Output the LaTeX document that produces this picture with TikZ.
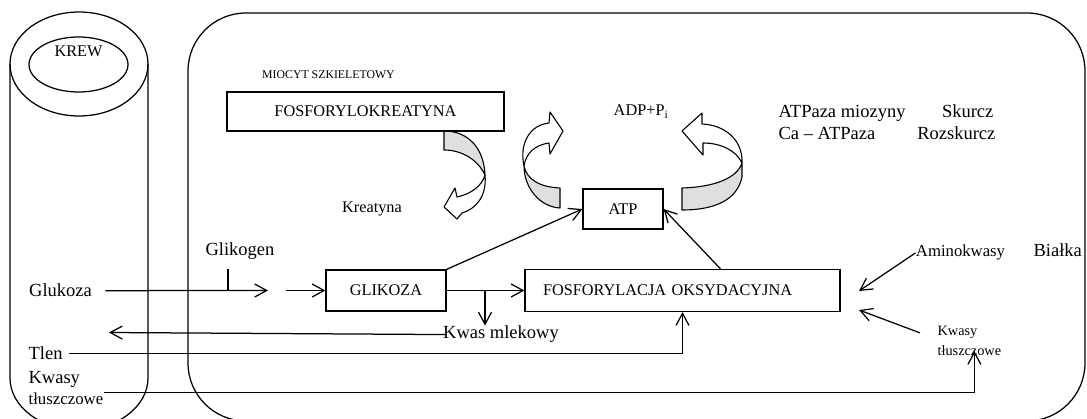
\documentclass[tikz,border=0pt]{standalone}
\usepackage{fontspec}
\setmainfont{Liberation Serif}
\usetikzlibrary{arrows.meta}
\usetikzlibrary{positioning}

\begin{document}
\begin{tikzpicture}[
          ->, >={Straight Barb[length=12pt,width=13pt]},
          x=1pt, y=1pt,
          line width=1.25pt,
          every node/.style={inner sep=0pt}
        ]

          % styles
          \tikzstyle{box}=[rectangle, draw, line width=1.25pt, font=\fontsize{16.3}{19}\selectfont]
          \tikzstyle{lbl}=[font=\fontsize{18.5}{22}\selectfont]
          \tikzstyle{midtxt}=[font=\fontsize{16.3}{19}\selectfont]
          \tikzstyle{sml}=[font=\fontsize{14.3}{17}\selectfont]
          \tikzstyle{band}=[-, draw, line width=1.1pt, fill=gray!25, line join=round]
          \tikzstyle{bandtop}=[-, draw, line width=1.1pt, fill=white, line join=round]

          \clip (0,0) rectangle (1087,-419);

          % blood vessel
          \draw[-] (10,-64) -- (10,-378) arc[start angle=180, end angle=360, x radius=69, y radius=52] -- (148,-64);
          \draw[-] (79,-64) ellipse [x radius=69, y radius=52];
          \draw[-] (78.5,-64.5) ellipse [x radius=49.5, y radius=27.5];
          \node[midtxt, anchor=base] (krew) at (78.5,-57) {KREW};

          % muscle cell
          \draw[-, rounded corners=58pt] (188,-13) rectangle (1085,-421);
          \node[font=\fontsize{11.8}{14}\selectfont, anchor=base] (miocyt) at (328.5,-79) {MIOCYT SZKIELETOWY};

          % curved arrows
          \draw[band] (444,-131) .. controls (468,-131) and (484,-148) .. (485,-175) .. controls (478,-160) and (462,-150) .. (444,-150) -- cycle;
          \draw[bandtop] (485,-175) .. controls (487,-196) and (476,-209) .. (462,-213) -- (457,-219) -- (444,-207) -- (455,-188) -- (457,-197) .. controls (471,-194) and (482,-186) .. (485,-175) -- cycle;
          \draw[band] (560,-188) .. controls (540,-187) and (527,-180) .. (524,-166) .. controls (524,-188) and (540,-207) .. (560,-208) -- cycle;
          \draw[bandtop] (524,-166) .. controls (519,-143) and (530,-125) .. (549,-123) -- (550,-112) -- (563,-131) -- (550,-154) -- (549,-143) .. controls (535,-145) and (526,-153) .. (524,-166) -- cycle;
          \draw[band] (682,-188) .. controls (715,-187) and (737,-178) .. (742,-163) -- (742,-177) .. controls (737,-200) and (715,-210) .. (682,-210) -- cycle;
          \draw[bandtop] (742,-163) .. controls (743,-140) and (725,-125) .. (702,-124) -- (702,-113) -- (682,-131) -- (703,-155) -- (703,-143) .. controls (720,-143) and (736,-150) .. (742,-163) -- cycle;

          % boxes
          \node[box, minimum width=277pt, minimum height=39pt] (fosfokr) at (365.5,-111.5) {FOSFORYLOKREATYNA};
          \node[box, minimum width=80pt, minimum height=40pt] (atp) at (623,-209) {ATP};
          \node[box, minimum width=120pt, minimum height=41pt] (glikoza) at (386,-290.5) {GLIKOZA};
          \node[box, text width=279pt, inner xsep=18pt, align=left, minimum height=42pt] (oksyd) at (682.5,-290.5) {FOSFORYLACJA OKSYDACYJNA};

          % labels
          \node[midtxt, anchor=base] (kreatyna) at (372,-213) {Kreatyna};
          \node[lbl, anchor=base] (glikogen) at (240,-256) {Glikogen};
          \node[midtxt, anchor=base] (adp) at (641,-116) {ADP+P\textsubscript{i}};
          \node[lbl, anchor=base west] (miozyna) at (778,-118) {ATPaza miozyny};
          \node[lbl, anchor=base east] (skurcz) at (994,-118) {Skurcz};
          \node[lbl, below=22pt of miozyna.base west, anchor=base west] (caatp) {Ca -- ATPaza};
          \node[lbl, anchor=base east] (rozkurcz) at (996,-140) {Rozskurcz};
          \node[lbl, anchor=base] (glukoza) at (60.5,-297) {Glukoza};
          \node[lbl, anchor=base] (kwasml) at (501,-339) {Kwas mlekowy};
          \node[lbl, anchor=base west] (tlen) at (28,-360) {Tlen};
          \node[lbl, anchor=base west] (kwasyL) at (28,-384) {Kwasy};
          \node[font=\fontsize{16.8}{20}\selectfont, anchor=base west] (tluszczL) at (28,-405) {tłuszczowe};
          \node[font=\fontsize{16.7}{20}\selectfont, anchor=base] (amino) at (960.5,-257) {Aminokwasy};
          \node[lbl, anchor=base west] (bialka) at (1033,-257) {Białka};
          \node[sml, anchor=base west] (kwasyR) at (937,-336) {Kwasy};
          \node[sml, below=20pt of kwasyR.base west, anchor=base west] (tluszczR) {tłuszczowe};

          % free ends
          \coordinate (glukEnd) at (268,-290.5);
          \coordinate (glikStart) at (286,-290.5);
          \coordinate (glikTop) at (228,-269);
          \coordinate (mlek) at (485,-290.5);
          \coordinate (mlekEnd) at (109,-332.5);
          \coordinate (aminoEnd) at (859,-291);
          \coordinate (kwasyEnd) at (859,-310);

          % edges
          \draw ([xshift=13pt]glukoza.east) -- (glukEnd);
          \draw[-] (glikTop) -- (glikTop |- glukEnd);
          \draw (glikStart) -- (glikoza.west);
          \draw (glikoza.east) -- (oksyd.west);
          \draw (mlek) -- (mlek |- kwasml.north);
          \draw ([xshift=4pt]kwasml.west) -- (mlekEnd);
          \draw ([xshift=6pt]tlen.east) -| (oksyd.south);
          \draw (tluszczL.north east) -| ([xshift=5pt]tluszczR.center);
          \draw (glikoza.north east) -- (atp.west);
          \draw ([xshift=38pt]oksyd.north) -- (atp.east);
          \draw (amino.west) -- (aminoEnd);
          \draw ([xshift=-17pt]kwasyR.west) -- (kwasyEnd);

        \end{tikzpicture}
\end{document}
